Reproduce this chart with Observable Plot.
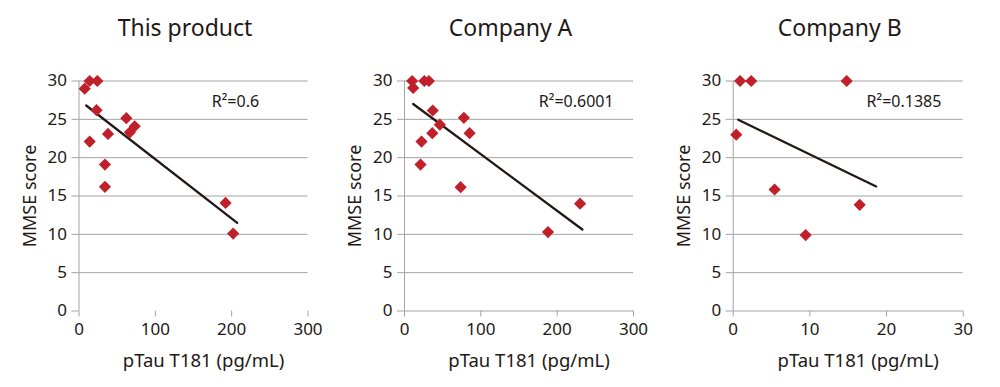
<!DOCTYPE html>
<html><head><meta charset="utf-8">
<script src="https://cdn.jsdelivr.net/npm/d3@7"></script>
<script src="https://cdn.jsdelivr.net/npm/@observablehq/plot@0.6"></script>
<style>
body{margin:0;background:#fff;}
#wrap{display:flex;width:1000px;height:387px;overflow:hidden;}
#wrap svg{display:block;flex:none;}
</style></head><body><div id="wrap"></div>
<script>
const titles = ["This product", "Company A", "Company B"];
const r2Labels = ["R²=0.6", "R²=0.6001", "R²=0.1385"];
const yTicks = [0, 5, 10, 15, 20, 25, 30];
const xTicksPg = [0, 100, 200, 300];
const xTicksB = [0, 10, 20, 30];

// This product
const prodX = [7.5, 14, 24, 23, 14, 38, 34, 34, 62, 66.6, 73, 192, 202];
const prodY = [29, 30, 30, 26.2, 22.1, 23.1, 19.1, 16.2, 25.15, 23.3, 24.1, 14.1, 10.1];
const prodTrendX = [9.4, 207.3];
const prodTrendY = [26.8, 11.5];

// Company A
const aX = [10, 11.4, 26, 32, 37, 22.3, 36.4, 46.3, 21, 77.8, 85.3, 73.5, 188, 230];
const aY = [30, 29.1, 30, 30, 26.15, 22.1, 23.2, 24.3, 19.1, 25.2, 23.2, 16.15, 10.3, 14.0];
const aTrendX = [11.4, 233];
const aTrendY = [27.0, 10.63];

// Company B
const bX = [0.4, 0.9, 2.35, 14.8, 5.4, 9.45, 16.5];
const bY = [23.0, 30, 30, 30, 15.85, 9.9, 13.85];
const bTrendX = [0.65, 18.65];
const bTrendY = [24.95, 16.25];

const GRID = "#a3a3a3";
const INK = "#231815";
const RED = "#c0202a";

function panel(cfg) {
  const pts = cfg.xs.map((x, i) => ({x, y: cfg.ys[i]}));
  const trend = cfg.tx.map((x, i) => ({x, y: cfg.ty[i]}));
  return Plot.plot({
    width: cfg.width, height: 387,
    marginLeft: cfg.ml, marginRight: cfg.mr, marginTop: 80.5, marginBottom: 76.5,
    style: {fontFamily: "'Noto Sans', 'Open Sans', sans-serif", fontSize: "17px", color: INK, background: "#fff"},
    x: {domain: cfg.xDomain},
    y: {domain: [0, 30]},
    marks: [
      Plot.gridY(yTicks.filter(d => d > 0), {stroke: GRID, strokeOpacity: 1, strokeWidth: 1}),
      cfg.baseline ? Plot.ruleY([0], {stroke: GRID}) : null,
      Plot.ruleX([0], {stroke: GRID}),
      Plot.axisY(yTicks, {tickSize: 7, text: null, stroke: GRID, label: null}),
      Plot.axisY(yTicks, {tickSize: 0, tickPadding: 12, label: null, fill: INK}),
      Plot.axisX(cfg.xTicks, {tickSize: 6, text: null, stroke: GRID, label: null}),
      Plot.axisX(cfg.xTicks, {tickSize: 0, tickPadding: 12, label: null, fill: INK}),
      Plot.line(trend, {x: "x", y: "y", stroke: INK, strokeWidth: 2.3}),
      Plot.dot(pts, {x: "x", y: "y", symbol: "diamond2", r: 5.5, fill: RED, stroke: "none"}),
      Plot.text([cfg.r2], {x: cfg.r2x, y: 27.3, textAnchor: "start", fontSize: 16, fill: INK}),
      Plot.text([cfg.title], {frameAnchor: "top", textAnchor: "middle", dx: -8.5, dy: -45.5, lineAnchor: "bottom", fontSize: 23, fill: INK}),
      Plot.text(["MMSE score"], {frameAnchor: "left", textAnchor: "middle", rotate: -90, dx: -49, fontSize: 18, fill: INK}),
      Plot.text(["pTau T181 (pg/mL)"], {frameAnchor: "bottom", textAnchor: "middle", dx: 10, dy: 56, lineAnchor: "bottom", fontSize: 18.5, fill: INK})
    ]
  });
}

const wrap = document.getElementById("wrap");
wrap.append(panel({title: titles[0], r2: r2Labels[0], r2x: 174, xs: prodX, ys: prodY, tx: prodTrendX, ty: prodTrendY,
  xDomain: [0, 300], xTicks: xTicksPg, width: 333, ml: 78.5, mr: 25.5, baseline: false}));
wrap.append(panel({title: titles[1], r2: r2Labels[1], r2x: 176, xs: aX, ys: aY, tx: aTrendX, ty: aTrendY,
  xDomain: [0, 300], xTicks: xTicksPg, width: 333, ml: 71, mr: 33, baseline: true}));
wrap.append(panel({title: titles[2], r2: r2Labels[2], r2x: 17.4, xs: bX, ys: bY, tx: bTrendX, ty: bTrendY,
  xDomain: [0, 30], xTicks: xTicksB, width: 334, ml: 66.7, mr: 37.3, baseline: true}));
</script>
</body></html>
